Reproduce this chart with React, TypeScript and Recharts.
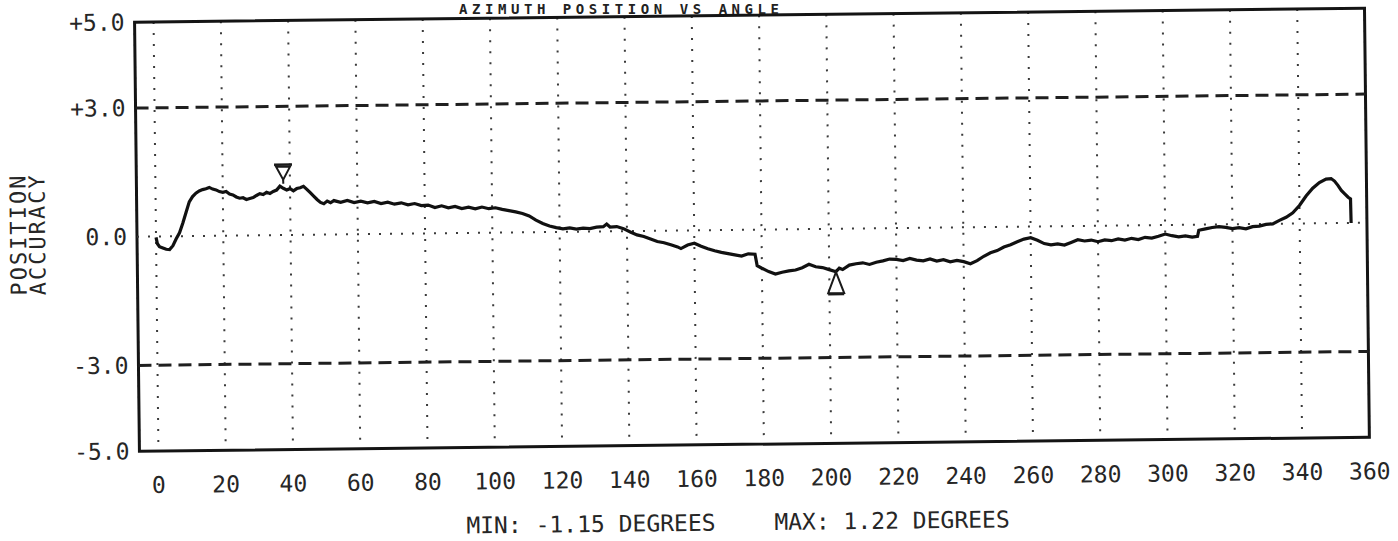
import { CartesianGrid, Line, LineChart, ReferenceArea, ReferenceDot, ReferenceLine, XAxis, YAxis } from 'recharts';

// azimuth angle (deg) vs position accuracy (deg)
const angleDeg = [
  0, 0.4, 1, 2, 3, 4, 5, 6, 7, 8, 9, 10, 11, 12, 13, 14, 15, 16, 17, 18, 19, 20,
  21, 22, 23, 24, 25, 26, 27, 28, 29, 30, 31, 32, 33, 34, 35, 36, 37, 38, 39, 40,
  41, 42, 43, 44, 45, 46, 47, 48, 49, 50, 51, 52, 53, 55, 57, 59, 61, 63, 65, 67,
  69, 71, 73, 75, 77, 79, 81, 83, 85, 87, 89, 91, 93, 95, 97, 99, 101, 103, 105,
  107, 109, 111, 113, 115, 117, 119, 121, 123, 125, 127, 129, 131, 133, 134, 135,
  137, 139, 141, 143, 145, 147, 149, 151, 153, 155, 156, 158, 160, 162, 164, 166,
  168, 170, 172, 174, 176, 178, 178.6, 180, 182, 184, 186, 188, 190, 192, 194, 196,
  198, 200, 202, 203, 204, 206, 208, 210, 212, 214, 216, 218, 220, 222, 224, 226,
  228, 230, 232, 234, 236, 238, 240, 242, 244, 246, 248, 250, 252, 254, 256, 258,
  260, 262, 264, 266, 268, 270, 272, 274, 276, 278, 280, 282, 284, 286, 288, 290,
  292, 294, 296, 298, 300, 302, 304, 306, 308, 309.6, 310, 312, 314, 316, 318, 320,
  322, 324, 326, 328, 330, 332, 334, 336, 338, 340, 342, 344, 346, 348, 349.5,
  350.5, 351.5, 352.5, 353.5, 354.5, 355.2, 355.3,
];
const accuracyDeg = [
  -0.02, -0.17, -0.24, -0.27, -0.3, -0.31, -0.22, -0.06, 0.08, 0.3, 0.55, 0.8, 0.92,
  1.0, 1.05, 1.08, 1.1, 1.13, 1.09, 1.07, 1.03, 1.01, 1.03, 0.97, 0.95, 0.9, 0.87,
  0.88, 0.84, 0.86, 0.88, 0.93, 0.97, 0.95, 1.0, 0.97, 1.02, 1.05, 1.14, 1.09, 1.05,
  1.08, 1.03, 1.08, 1.1, 1.13, 1.06, 0.98, 0.9, 0.82, 0.75, 0.72, 0.78, 0.74, 0.79,
  0.75, 0.79, 0.74, 0.77, 0.73, 0.76, 0.71, 0.74, 0.69, 0.72, 0.67, 0.7, 0.65, 0.66,
  0.6, 0.64, 0.59, 0.62, 0.57, 0.6, 0.56, 0.6, 0.56, 0.58, 0.54, 0.51, 0.48, 0.44,
  0.38, 0.28, 0.2, 0.14, 0.1, 0.07, 0.09, 0.06, 0.08, 0.07, 0.1, 0.11, 0.17, 0.1,
  0.11, 0.06, -0.02, -0.09, -0.13, -0.19, -0.25, -0.28, -0.33, -0.38, -0.42, -0.34,
  -0.3, -0.37, -0.43, -0.48, -0.52, -0.55, -0.58, -0.61, -0.56, -0.57, -0.84, -0.9,
  -0.98, -1.04, -1.0, -0.97, -0.95, -0.9, -0.82, -0.88, -0.9, -0.95, -1.0, -0.92,
  -0.95, -0.85, -0.82, -0.8, -0.84, -0.79, -0.76, -0.72, -0.73, -0.76, -0.71, -0.75,
  -0.77, -0.73, -0.78, -0.75, -0.8, -0.77, -0.8, -0.85, -0.78, -0.68, -0.6, -0.55,
  -0.47, -0.42, -0.35, -0.29, -0.26, -0.32, -0.4, -0.43, -0.41, -0.44, -0.38, -0.32,
  -0.35, -0.33, -0.37, -0.33, -0.35, -0.31, -0.34, -0.3, -0.33, -0.28, -0.3, -0.26,
  -0.21, -0.25, -0.28, -0.26, -0.29, -0.27, -0.13, -0.1, -0.07, -0.05, -0.07, -0.1,
  -0.08, -0.11, -0.06, -0.05, -0.01, 0.0, 0.08, 0.15, 0.25, 0.42, 0.64, 0.82, 0.95,
  1.03, 1.04, 0.98, 0.88, 0.76, 0.68, 0.6, 0.56, 0.0,
];

const angleTicks = [0, 20, 40, 60, 80, 100, 120, 140, 160, 180, 200, 220, 240, 260, 280, 300, 320, 340, 360];
const accuracyTicks = [-5, -3, 0, 3, 5];
const accuracyTickLabels = ['-5.0', '-3.0', '0.0', '+3.0', '+5.0'];
const limitLines = [-3, 3];
const maxPoint = { angle: 38, value: 1.22 };
const minPoint = { angle: 202, value: -1.15 };
const title = 'AZIMUTH POSITION VS ANGLE';
const summary = ['MIN: -1.15 DEGREES', 'MAX: 1.22 DEGREES'];

const data = angleDeg.map((a, i) => ({ angle: a, accuracy: accuracyDeg[i] }));

const FONT = '"DejaVu Sans Mono", monospace';
const INK = '#262626';

function XTick({ x, y, payload }: any) {
  return (
    <text x={x} y={y + 34} textAnchor="middle" dominantBaseline="central" fontFamily={FONT} fontSize={23} fill={INK}>
      {payload.value}
    </text>
  );
}

function YTick({ x, y, payload }: any) {
  const label = accuracyTickLabels[accuracyTicks.indexOf(payload.value)];
  return (
    <text x={x} y={y} textAnchor="end" dominantBaseline="central" fontFamily={FONT} fontSize={23} fill={INK}>
      {label}
    </text>
  );
}

function MaxMarker({ cx, cy }: any) {
  return (
    <g stroke="#1a1a1a" strokeWidth={2} fill="#fff">
      <line x1={cx - 9} x2={cx + 9} y1={cy - 18} y2={cy - 18} strokeWidth={2.5} />
      <path d={`M${cx - 7},${cy - 16} L${cx + 7},${cy - 16} L${cx},${cy - 3} Z`} />
      <line x1={cx} x2={cx} y1={cy - 3} y2={cy + 1} />
    </g>
  );
}

function MinMarker({ cx, cy }: any) {
  return (
    <g stroke="#1a1a1a" strokeWidth={2} fill="#fff">
      <path d={`M${cx},${cy - 6} L${cx - 8},${cy + 15} L${cx + 8},${cy + 15} Z`} />
      <line x1={cx - 8} x2={cx + 8} y1={cy + 16} y2={cy + 16} strokeWidth={2.5} />
    </g>
  );
}

export default function App() {
  return (
    <div style={{ position: 'absolute', left: 0, top: 0, width: 1398, height: 541, background: '#fff', overflow: 'hidden' }}>
      <div
        style={{
          position: 'absolute',
          left: 0,
          top: 0,
          width: 1398,
          height: 541,
          transform: 'rotate(-0.65deg)',
          transformOrigin: '156px 236px',
        }}
      >
        <LineChart width={1398} height={541} data={data} margin={{ top: 22, right: 31, bottom: 50, left: 77 }}>
          <CartesianGrid horizontal={false} stroke="#3a3a3a" strokeWidth={2} strokeDasharray="2 9" />
          <XAxis
            dataKey="angle"
            type="number"
            domain={[-5.65, 360]}
            allowDataOverflow
            ticks={angleTicks}
            interval={0}
            height={40}
            axisLine={false}
            tickLine={false}
            tickSize={0}
            tickMargin={0}
            tick={<XTick />}
          />
          <YAxis
            type="number"
            domain={[-5, 5]}
            ticks={accuracyTicks}
            interval={0}
            width={60}
            axisLine={false}
            tickLine={false}
            tickSize={0}
            tickMargin={10}
            tick={<YTick />}
          />
          <ReferenceLine y={0} stroke="#3a3a3a" strokeWidth={2} strokeDasharray="2 9" />
          {limitLines.map((v) => (
            <ReferenceLine key={v} y={v} stroke="#1f1f1f" strokeWidth={3} strokeDasharray="13 7" />
          ))}
          <Line
            type="linear"
            dataKey="accuracy"
            stroke="#111"
            strokeWidth={3.2}
            dot={false}
            isAnimationActive={false}
          />
          <ReferenceDot x={maxPoint.angle} y={maxPoint.value} r={0} shape={(p: any) => <MaxMarker {...p} />} />
          <ReferenceDot x={minPoint.angle} y={minPoint.value} r={0} shape={(p: any) => <MinMarker {...p} />} />
          <ReferenceArea x1={-5.65} x2={360} y1={-5} y2={5} fill="none" stroke="#141414" strokeWidth={3} />
        </LineChart>
        <svg width={1398} height={541} style={{ position: 'absolute', left: 0, top: 0, pointerEvents: 'none' }}>
          <g fontFamily={FONT} fontSize={22} fill={INK} textAnchor="middle" dominantBaseline="central" letterSpacing={2}>
            <text transform="translate(18.5,233) rotate(-90)">POSITION</text>
            <text transform="translate(37.5,233) rotate(-90)">ACCURACY</text>
          </g>
          <g fontFamily={FONT} fontSize={23} fill={INK} dominantBaseline="central">
            <text x={463} y={529}>{summary[0]}</text>
            <text x={771} y={529}>{summary[1]}</text>
          </g>
        </svg>
      </div>
      <svg width={1398} height={20} style={{ position: 'absolute', left: 0, top: 0, pointerEvents: 'none' }}>
        <text x={459} y={13.5} fontFamily={FONT} fontWeight="bold" fontSize={14} fill="#222" textLength={320} lengthAdjust="spacing">
          {title}
        </text>
      </svg>
    </div>
  );
}
